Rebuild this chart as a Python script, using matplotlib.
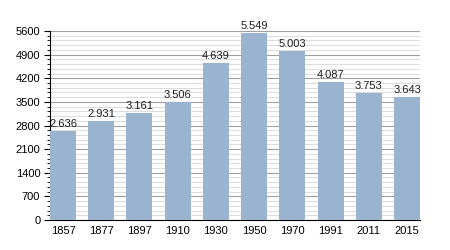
import matplotlib
matplotlib.use("Agg")
import matplotlib.pyplot as plt
from matplotlib.ticker import MultipleLocator

years = ["1857", "1877", "1897", "1910", "1930", "1950", "1970", "1991", "2011", "2015"]
population = [2636, 2931, 3161, 3506, 4639, 5549, 5003, 4087, 3753, 3643]
labels = ["2.636", "2.931", "3.161", "3.506", "4.639", "5.549", "5.003", "4.087", "3.753", "3.643"]

plt.rcParams['font.family'] = ['Liberation Sans', 'DejaVu Sans']
fig = plt.figure(figsize=(4.5, 2.5), dpi=100)
ax = fig.add_axes([50/450, 1-220/250, 370/450, 189/250])

w = 0.68
x = list(range(len(years)))
ax.bar(x, population, width=w, color="#9ab3cf", zorder=3)
for xi, v, t in zip(x, population, labels):
    ax.text(xi, v + 60, t, ha="center", va="bottom", fontsize=8, color="#222222", zorder=4)

ax.set_xlim(-w/2, len(years) - 1 + w/2)
ax.set_ylim(0, 5600)
ax.yaxis.set_major_locator(MultipleLocator(700))
ax.yaxis.set_minor_locator(MultipleLocator(140))
ax.grid(axis="y", which="major", color="#a0a0a0", linewidth=0.8, zorder=1)
ax.grid(axis="y", which="minor", color="#dddddd", linewidth=0.8, zorder=1)
ax.set_xticks(x)
ax.set_xticklabels(years)
ax.tick_params(axis="x", length=0, labelsize=8, pad=4)
ax.tick_params(axis="y", which="major", length=4, width=0.8, labelsize=8, pad=3)
ax.tick_params(axis="y", which="minor", length=2, width=0.6)
for s in ["top", "right"]:
    ax.spines[s].set_visible(False)
ax.spines["left"].set_linewidth(0.8)
ax.spines["bottom"].set_linewidth(0.8)

fig.savefig("out.png", dpi=100)
